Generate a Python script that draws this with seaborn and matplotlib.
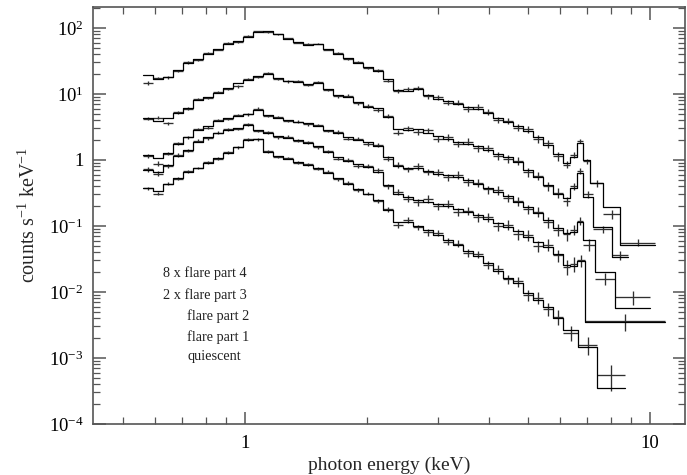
import numpy as np
import pandas as pd
import matplotlib
matplotlib.use("Agg")
import matplotlib.pyplot as plt
import seaborn as sns
from matplotlib.ticker import FixedLocator, FixedFormatter, NullFormatter

# ---------------- data ----------------
# common energy bin edges (keV) up to ~6.1 keV
edges_common = [0.560, 0.593, 0.627, 0.664, 0.703, 0.744, 0.787, 0.834, 0.883, 0.934,
                0.989, 1.047, 1.108, 1.173, 1.241, 1.314, 1.391, 1.472, 1.558, 1.649,
                1.746, 1.848, 1.956, 2.070, 2.191, 2.320, 2.456, 2.599, 2.751, 2.912,
                3.083, 3.263, 3.454, 3.656, 3.870, 4.096, 4.335, 4.589, 4.857, 5.142,
                5.443, 5.761, 6.098]

# 8 x flare part 4
A_model = [19.4, 16.9, 18.1, 23.1, 29.5, 33.9, 40.4, 48.1, 57.2, 63.5, 73.1, 87.0, 90.1, 81.1,
           68.1, 61.4, 55.3, 57.2, 48.1, 40.4, 35.1, 29.5, 25.7, 22.3, 16.9, 11.5, 11.1, 11.9,
           9.66, 8.4, 7.83, 7.05, 6.35, 5.93, 5.15, 4.33, 3.77, 3.27, 2.75, 2.23, 1.69, 1.23]
A_data = [14.7, 17.5, 17.8, 22.5, 30.0, 33.0, 41.5, 47.0, 58.5, 62.0, 75.0, 88.5, 88.0, 80.0,
          69.5, 60.0, 56.5, 58.0, 47.0, 41.5, 34.0, 30.5, 25.0, 23.0, 16.0, 11.0, 11.8, 12.5,
          9.2, 8.9, 7.4, 7.4, 6.0, 6.3, 5.4, 4.1, 3.95, 3.1, 2.9, 2.1, 1.78, 1.15]
A_rel = [0.06, 0.05, 0.05, 0.04, 0.04, 0.04, 0.03, 0.03, 0.03, 0.03, 0.03, 0.03, 0.03, 0.03,
         0.03, 0.03, 0.03, 0.03, 0.03, 0.04, 0.04, 0.04, 0.04, 0.05, 0.05, 0.07, 0.07, 0.07,
         0.08, 0.08, 0.09, 0.09, 0.10, 0.10, 0.10, 0.11, 0.11, 0.12, 0.12, 0.13, 0.14, 0.15]
A_tail_edges = [6.346, 6.603, 6.833, 7.111, 7.656, 8.433, 10.29]
A_tail_model = [0.90, 1.11, 1.81, 1.0, 0.45, 0.194, 0.0515]
A_tail_data = [0.85, 1.2, 1.95, 0.95, 0.45, 0.15, 0.056]
A_tail_rel = [0.12, 0.10, 0.08, 0.10, 0.12, 0.15, 0.12]

# 2 x flare part 3
B_model = [4.33, 3.90, 4.33, 5.15, 6.14, 8.11, 9.01, 10.35, 12.3, 14.7, 16.3, 18.7, 20.1, 17.5,
           15.7, 15.2, 14.2, 14.7, 11.9, 9.66, 9.01, 7.57, 6.35, 6.14, 4.48, 2.95, 2.85, 2.95,
           2.57, 2.31, 2.08, 1.87, 1.75, 1.63, 1.42, 1.23, 1.11, 0.93, 0.71, 0.55, 0.42, 0.305]
B_data = [4.2, 4.4, 3.6, 5.3, 6.0, 8.4, 8.7, 10.6, 12.0, 13.0, 16.8, 18.0, 21.0, 17.0,
          15.5, 15.8, 13.8, 15.2, 11.5, 9.3, 9.4, 7.2, 6.6, 5.7, 4.6, 2.6, 3.0, 2.7,
          2.8, 2.1, 2.2, 1.75, 1.9, 1.5, 1.5, 1.15, 1.05, 0.98, 0.66, 0.58, 0.40, 0.32]
B_rel = [0.05, 0.05, 0.05, 0.05, 0.04, 0.04, 0.04, 0.04, 0.04, 0.04, 0.04, 0.04, 0.04, 0.04,
         0.04, 0.04, 0.04, 0.04, 0.05, 0.05, 0.05, 0.05, 0.06, 0.06, 0.07, 0.09, 0.09, 0.10,
         0.10, 0.10, 0.11, 0.11, 0.12, 0.12, 0.12, 0.13, 0.13, 0.14, 0.15, 0.15, 0.16, 0.17]
B_tail_edges = [6.346, 6.603, 6.833, 7.234, 8.058, 8.826]
B_tail_model = [0.266, 0.38, 0.64, 0.275, 0.0966, 0.0339]
B_tail_data = [0.24, 0.40, 0.68, 0.30, 0.09, 0.036]
B_tail_rel = [0.15, 0.12, 0.10, 0.12, 0.12, 0.15]

# flare part 2
C_model = [1.19, 1.07, 1.28, 1.75, 2.23, 2.85, 3.27, 3.90, 4.33, 4.64, 4.98, 5.72, 4.81, 4.33,
           4.04, 3.77, 3.64, 3.27, 2.85, 2.57, 2.23, 2.01, 1.87, 1.63, 1.11, 0.81, 0.76, 0.76,
           0.68, 0.61, 0.59, 0.55, 0.50, 0.43, 0.38, 0.33, 0.285, 0.231, 0.194, 0.157, 0.123, 0.093]
C_data = [1.15, 0.88, 1.25, 1.8, 2.2, 2.95, 3.1, 4.0, 4.2, 4.8, 4.9, 6.0, 4.6, 4.5,
          3.9, 3.8, 3.5, 3.4, 2.75, 2.65, 2.1, 2.1, 1.75, 1.7, 1.05, 0.85, 0.72, 0.8,
          0.66, 0.65, 0.55, 0.6, 0.47, 0.45, 0.36, 0.35, 0.27, 0.24, 0.18, 0.165, 0.115, 0.088]
C_rel = [0.06, 0.08, 0.06, 0.05, 0.05, 0.05, 0.04, 0.04, 0.04, 0.04, 0.04, 0.04, 0.04, 0.04,
         0.04, 0.05, 0.05, 0.05, 0.05, 0.06, 0.06, 0.06, 0.07, 0.07, 0.08, 0.10, 0.10, 0.11,
         0.11, 0.12, 0.12, 0.13, 0.13, 0.14, 0.14, 0.15, 0.15, 0.16, 0.17, 0.18, 0.19, 0.20]
C_tail_edges = [6.346, 6.603, 6.833, 7.315, 8.197, 10.0]
C_tail_model = [0.078, 0.081, 0.115, 0.061, 0.020, 0.0057]
C_tail_data = [0.075, 0.088, 0.12, 0.052, 0.016, 0.0084]
C_tail_rel = [0.20, 0.18, 0.15, 0.20, 0.20, 0.25]

# flare part 1
D_model = [0.71, 0.66, 0.84, 1.15, 1.42, 1.87, 2.23, 2.57, 2.85, 3.05, 3.39, 2.85, 2.57, 2.31,
           2.15, 2.01, 1.81, 1.63, 1.32, 1.11, 0.97, 0.87, 0.78, 0.66, 0.42, 0.305, 0.275, 0.248,
           0.231, 0.215, 0.201, 0.181, 0.163, 0.147, 0.128, 0.111, 0.097, 0.084, 0.068, 0.057,
           0.048, 0.038]
D_data = [0.72, 0.62, 0.80, 1.2, 1.38, 1.95, 2.15, 2.6, 2.9, 2.95, 3.45, 2.75, 2.65, 2.2,
          2.25, 1.95, 1.85, 1.55, 1.35, 1.05, 1.0, 0.82, 0.8, 0.7, 0.4, 0.33, 0.26, 0.23,
          0.26, 0.2, 0.215, 0.165, 0.17, 0.135, 0.135, 0.10, 0.105, 0.075, 0.072, 0.05, 0.052, 0.036]
D_rel = [0.08, 0.08, 0.07, 0.06, 0.05, 0.05, 0.05, 0.05, 0.05, 0.05, 0.05, 0.05, 0.05, 0.05,
         0.05, 0.05, 0.06, 0.06, 0.06, 0.06, 0.07, 0.07, 0.07, 0.08, 0.10, 0.12, 0.12, 0.12,
         0.13, 0.13, 0.14, 0.14, 0.15, 0.15, 0.16, 0.16, 0.17, 0.18, 0.19, 0.20, 0.20, 0.22]
D_tail_edges = [6.346, 6.603, 6.911, 10.89]
D_tail_model = [0.0256, 0.025, 0.0292, 0.0035]
D_tail_data = [0.024, 0.027, 0.030, 0.0036]
D_tail_rel = [0.25, 0.25, 0.20, 0.30]

# quiescent
E_model = [0.38, 0.339, 0.43, 0.53, 0.66, 0.76, 0.90, 1.07, 1.28, 1.57, 2.01, 2.08, 1.32, 1.15,
           1.04, 0.93, 0.84, 0.76, 0.64, 0.53, 0.43, 0.364, 0.305, 0.248, 0.175, 0.115, 0.115,
           0.100, 0.087, 0.073, 0.061, 0.0515, 0.0418, 0.0351, 0.0275, 0.0208, 0.0163, 0.0137,
           0.0097, 0.0076, 0.0059, 0.0040]
E_data = [0.37, 0.31, 0.44, 0.52, 0.67, 0.75, 0.92, 1.05, 1.3, 1.55, 2.05, 2.05, 1.35, 1.12,
          1.06, 0.91, 0.86, 0.74, 0.66, 0.51, 0.45, 0.35, 0.31, 0.24, 0.18, 0.105, 0.125,
          0.095, 0.08, 0.078, 0.058, 0.054, 0.039, 0.037, 0.026, 0.022, 0.0155, 0.0145,
          0.009, 0.0082, 0.0055, 0.0042]
E_rel = [0.06, 0.06, 0.05, 0.05, 0.05, 0.04, 0.04, 0.04, 0.04, 0.04, 0.04, 0.04, 0.04, 0.04,
         0.04, 0.05, 0.05, 0.05, 0.05, 0.05, 0.06, 0.06, 0.06, 0.07, 0.08, 0.10, 0.10, 0.10,
         0.11, 0.11, 0.12, 0.12, 0.13, 0.13, 0.14, 0.15, 0.16, 0.17, 0.18, 0.20, 0.22, 0.25]
E_tail_edges = [6.641, 7.397, 8.677]
E_tail_model = [0.0027, 0.00147, 0.00035]
E_tail_data = [0.0024, 0.0016, 0.00055]
E_tail_rel = [0.25, 0.30, 0.42]

labels = ["8 x flare part 4", "2 x flare part 3", "flare part 2", "flare part 1", "quiescent"]

ytick_vals = [1e-4, 1e-3, 1e-2, 1e-1, 1, 10, 100]
ytick_labels = ["10$^{-4}$", "10$^{-3}$", "10$^{-2}$", "10$^{-1}$", "1", "10$^{1}$", "10$^{2}$"]
xtick_vals = [1, 10]
xtick_labels = ["1", "10"]

# ---------------- style ----------------
sns.set_theme(style="ticks")
plt.rcParams['font.family'] = ['Liberation Serif', 'DejaVu Serif']
plt.rcParams['mathtext.fontset'] = 'custom'
plt.rcParams['mathtext.rm'] = 'Liberation Serif'
plt.rcParams['mathtext.it'] = 'Liberation Serif:italic'
plt.rcParams['mathtext.bf'] = 'Liberation Serif:bold'
plt.rcParams['axes.unicode_minus'] = False

fig = plt.figure(figsize=(6.87, 4.75), dpi=100)
ax = fig.add_axes([0.1354, 0.1074, 0.8617, 0.8779])

spectra = [
    (A_model, A_data, A_rel, A_tail_edges, A_tail_model, A_tail_data, A_tail_rel),
    (B_model, B_data, B_rel, B_tail_edges, B_tail_model, B_tail_data, B_tail_rel),
    (C_model, C_data, C_rel, C_tail_edges, C_tail_model, C_tail_data, C_tail_rel),
    (D_model, D_data, D_rel, D_tail_edges, D_tail_model, D_tail_data, D_tail_rel),
    (E_model, E_data, E_rel, E_tail_edges, E_tail_model, E_tail_data, E_tail_rel),
]

model_rows = []
for name, (m, d, r, te, tm, td, tr) in zip(labels, spectra):
    edges = np.array(edges_common + te)
    model = np.array(m + tm)
    data = np.array(d + td)
    rel = np.array(r + tr)
    lo, hi = edges[:-1], edges[1:]
    cen = np.sqrt(lo * hi)
    ax.errorbar(cen, data, xerr=[cen - lo, hi - cen], yerr=data * rel,
                fmt='none', ecolor='#303030', elinewidth=0.95, capsize=0, zorder=2)
    ys = np.append(model, model[-1])
    for e, y in zip(edges, ys):
        model_rows.append({"spec": name, "E": e, "model": y})

df_model = pd.DataFrame(model_rows)
sns.lineplot(data=df_model, x="E", y="model", units="spec", estimator=None,
             drawstyle="steps-post", color="black", linewidth=0.9, legend=False,
             sort=False, ax=ax, zorder=3)

ax.set_xscale("log")
ax.set_yscale("log")
ax.set_xlim(0.4215, 12.2)
ax.set_ylim(1e-4, 208)

ax.yaxis.set_major_locator(FixedLocator(ytick_vals))
ax.yaxis.set_major_formatter(FixedFormatter(ytick_labels))
ax.xaxis.set_major_locator(FixedLocator(xtick_vals))
ax.xaxis.set_major_formatter(FixedFormatter(xtick_labels))
ax.yaxis.set_minor_locator(matplotlib.ticker.LogLocator(base=10, subs=np.arange(2, 10), numticks=50))
ax.xaxis.set_minor_locator(matplotlib.ticker.LogLocator(base=10, subs=np.arange(2, 10), numticks=50))
ax.xaxis.set_minor_formatter(NullFormatter())
ax.yaxis.set_minor_formatter(NullFormatter())

spine_col = '#555555'
for s in ax.spines.values():
    s.set_visible(True)
    s.set_color(spine_col)
    s.set_linewidth(1.2)
ax.tick_params(which='both', direction='in', top=True, right=True, color=spine_col,
               labelcolor='black', labelsize=13.5)
ax.tick_params(which='major', length=9, width=1.1, pad=7)
ax.tick_params(axis='x', which='major', pad=8)
ax.tick_params(which='minor', length=5, width=0.9)

ax.set_xlabel("photon energy (keV)", fontsize=14)
ax.xaxis.set_label_coords(0.5, -0.079)
ax.set_ylabel("counts s$^{-1}$ keV$^{-1}$", fontsize=14.5, labelpad=6)

# text legend
text_pos = [(0.118, 0.362), (0.118, 0.309), (0.159, 0.259), (0.159, 0.209), (0.159, 0.161)]
for lab, (tx, ty) in zip(labels, text_pos):
    ax.text(tx, ty, lab, transform=ax.transAxes, fontsize=10.3, color='#222222',
            ha='left', va='center')

fig.savefig("out.png", dpi=100)
